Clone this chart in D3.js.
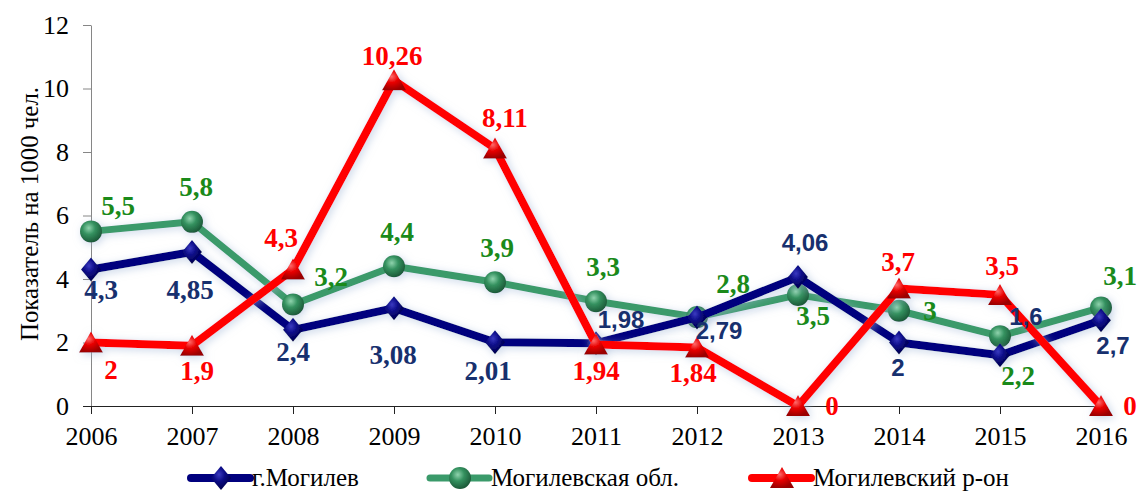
<!DOCTYPE html>
<html>
<head>
<meta charset="utf-8">
</head>
<body style="margin:0">
<svg width="1141" height="492" style="display:block"></svg>
<script src="https://cdnjs.cloudflare.com/ajax/libs/d3/7.8.5/d3.min.js"></script>
<script>

// data
var years = [2006, 2007, 2008, 2009, 2010, 2011, 2012, 2013, 2014, 2015, 2016];
var yTicks = [0, 2, 4, 6, 8, 10, 12];
var cityValues = [4.3, 4.85, 2.4, 3.08, 2.01, 1.98, 2.79, 4.06, 2, 1.6, 2.7];
var oblValues = [5.5, 5.8, 3.2, 4.4, 3.9, 3.3, 2.8, 3.5, 3, 2.2, 3.1];
var raionValues = [2, 1.9, 4.3, 10.26, 8.11, 1.94, 1.84, 0, 3.7, 3.5, 0];
var seriesNames = ["г.Могилев", "Могилевская обл.", "Могилевский р-он"];
var yTitle = "Показатель на 1000 чел.";

// label placement (offsets from the point, px)
var cityOff = [[10,20],[-2,38],[0,22],[-1,46],[-7,28],[25,-24],[22,13],[7,-34],[-1,25],[26,-39],[12,25]];
var oblOff = [[27,-26],[4,-35],[38,-28],[3,-35],[2,-35],[7,-35],[36,-34],[15,21],[31,0],[18,39],[19,-32]];
var raionOff = [[20,27],[5,25],[-12,-32],[-2,-25],[10,-31],[0,26],[-4,25],[34,0],[-1,-27],[2,-29],[29,0]];
var citySans = [5, 6, 7, 8, 9, 10];

var SERIF = "Times New Roman, Liberation Serif, Times, serif";
var SANS = "Arial, Liberation Sans, sans-serif";

var svg = d3.select("svg");

var x = d3.scaleLinear().domain([2006, 2016]).range([91, 1101]);
var y = d3.scaleLinear().domain([0, 12]).range([406, 25]);

var defs = svg.append("defs");

var glow = defs.append("filter").attr("id", "glow")
  .attr("x", "-10%").attr("y", "-20%").attr("width", "120%").attr("height", "140%");
glow.append("feGaussianBlur").attr("in", "SourceAlpha").attr("stdDeviation", 4).attr("result", "b");
glow.append("feOffset").attr("in", "b").attr("dx", 2).attr("dy", 2).attr("result", "o");
glow.append("feFlood").attr("flood-color", "#9fb6d6").attr("flood-opacity", 0.55);
glow.append("feComposite").attr("in2", "o").attr("operator", "in").attr("result", "s");
var gm = glow.append("feMerge");
gm.append("feMergeNode").attr("in", "s");
gm.append("feMergeNode").attr("in", "SourceGraphic");

function radial(id, light, mid, dark) {
  var g = defs.append("radialGradient").attr("id", id)
    .attr("cx", "40%").attr("cy", "35%").attr("r", "65%");
  g.append("stop").attr("offset", "0%").attr("stop-color", light);
  g.append("stop").attr("offset", "45%").attr("stop-color", mid);
  g.append("stop").attr("offset", "100%").attr("stop-color", dark);
}
radial("gGreen", "#8fd3ad", "#34915f", "#1c5a39");
radial("gNavy", "#3a3ac0", "#0b0b86", "#00004a");
radial("gRed", "#ff6a6a", "#e80000", "#9a0000");

// axes
var yAxis = svg.append("g")
  .attr("transform", "translate(91,0)")
  .call(d3.axisLeft(y).tickValues(yTicks).tickSize(8).tickSizeOuter(0).tickPadding(14));

var xAxis = svg.append("g")
  .attr("transform", "translate(0,406)")
  .call(d3.axisBottom(x).tickValues(years).tickFormat(d3.format("d")).tickSize(8).tickSizeOuter(0).tickPadding(13));

[yAxis, xAxis].forEach(function(a) {
  a.attr("font-family", SERIF).attr("font-size", 26);
  a.selectAll("text").attr("fill", "#000");
});
yAxis.selectAll("path, line").attr("stroke", "#868686");
xAxis.selectAll("path, line").attr("stroke", "#222");
xAxis.select(".domain").attr("d", "M83,0.5H1101");

var yt = svg.append("text")
  .attr("transform", "translate(30,214) rotate(-90)")
  .attr("text-anchor", "middle")
  .attr("dy", "0.33em")
  .attr("font-family", SERIF)
  .attr("font-size", 20)
  .text(yTitle);
// fit the title to its length in the picture
var ytLen = yt.node().getComputedTextLength();
yt.attr("font-size", Math.round(20 * 254 / ytLen * 10) / 10);

var series = [
  {name: seriesNames[1], values: oblValues, off: oblOff, color: "#3a9a6a", label: "#1a8a1a", width: 7, marker: "circle", fill: "url(#gGreen)"},
  {name: seriesNames[0], values: cityValues, off: cityOff, color: "#00007e", label: "#17306e", width: 8, marker: "diamond", fill: "url(#gNavy)"},
  {name: seriesNames[2], values: raionValues, off: raionOff, color: "#ff0000", label: "#ff0000", width: 8, marker: "triangle", fill: "url(#gRed)"}
];

var line = d3.line()
  .x(function(d, i) { return x(years[i]); })
  .y(function(d) { return y(d); });

function markerPath(type) {
  if (type == "diamond") return "M0,-12L10,0L0,12L-10,0Z";
  if (type == "triangle") return "M0,-11L12,10L-12,10Z";
  return d3.symbol().type(d3.symbolCircle).size(Math.PI * 11 * 11)();
}

series.forEach(function(s) {
  var g = svg.append("g").attr("filter", "url(#glow)");
  g.append("path")
    .datum(s.values)
    .attr("d", line)
    .attr("fill", "none")
    .attr("stroke", s.color)
    .attr("stroke-width", s.width)
    .attr("stroke-linejoin", "round");
  g.selectAll(".mk")
    .data(s.values)
    .enter().append("path")
    .attr("class", "mk")
    .attr("transform", function(d, i) { return "translate(" + x(years[i]) + "," + y(d) + ")"; })
    .attr("d", markerPath(s.marker))
    .attr("fill", s.fill);
});

series.forEach(function(s) {
  svg.append("g").selectAll("text")
    .data(s.values)
    .enter().append("text")
    .attr("x", function(d, i) { return x(years[i]) + s.off[i][0]; })
    .attr("y", function(d, i) { return y(d) + s.off[i][1]; })
    .attr("dy", "0.35em")
    .attr("text-anchor", "middle")
    .attr("fill", s.label)
    .attr("font-weight", "bold")
    .attr("font-family", function(d, i) { return (s.marker == "diamond" && citySans.indexOf(i) >= 0) ? SANS : SERIF; })
    .attr("font-size", function(d, i) { return (s.marker == "diamond" && citySans.indexOf(i) >= 0) ? 24 : 27; })
    .text(function(d) { return String(d).replace(".", ","); });
});

// legend
var legendX = [191, 430, 752];
var legendOrder = [series[1], series[0], series[2]];
var lg = svg.append("g");
legendOrder.forEach(function(s, i) {
  var it = lg.append("g").attr("transform", "translate(" + legendX[i] + ",478)");
  it.append("line").attr("x1", 0).attr("x2", 59).attr("y1", 0).attr("y2", 0)
    .attr("stroke", s.color).attr("stroke-width", s.width).attr("stroke-linecap", "round");
  it.append("path").attr("transform", "translate(30,0)").attr("d", markerPath(s.marker)).attr("fill", s.fill);
  it.append("text").attr("x", 61).attr("y", 0).attr("dy", "0.33em")
    .attr("font-family", SERIF).attr("font-size", 25)
    .text(s.name);
});

</script>
</body>
</html>
